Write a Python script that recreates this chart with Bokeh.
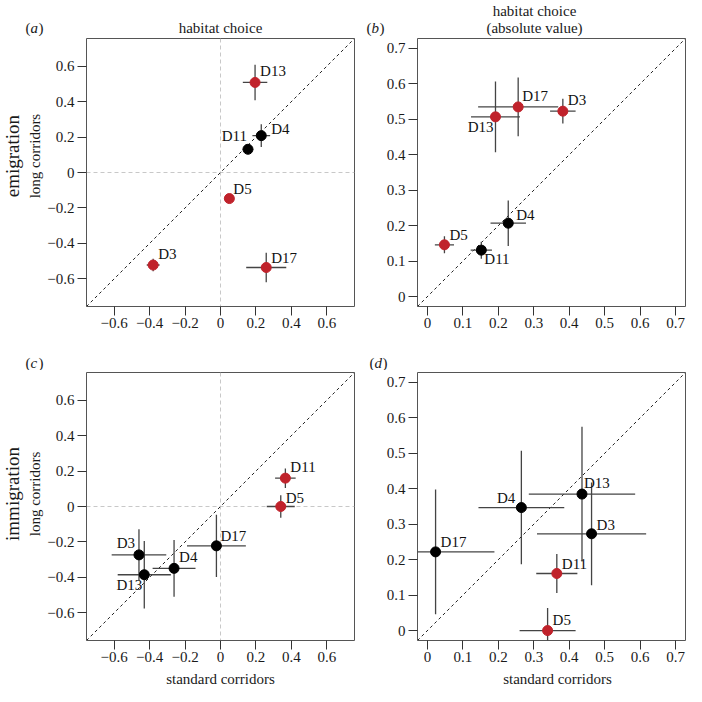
import math
from bokeh.plotting import figure
from bokeh.models import ColumnDataSource, Range1d, FixedTicker, Slope, Span
from bokeh.layouts import column, row
from bokeh.core.properties import value
from bokeh.embed import file_html
from bokeh.resources import INLINE

# ---------------- data ----------------
labels = ["D3", "D4", "D5", "D11", "D13", "D17"]

# (a) emigration, habitat choice (signed)
em_std = [-0.380, 0.230, 0.050, 0.155, 0.195, 0.258]
em_long = [-0.522, 0.208, -0.147, 0.131, 0.508, -0.536]
# (b) emigration, habitat choice (absolute value)
em_abs_std = [0.382, 0.228, 0.048, 0.152, 0.192, 0.256]
em_abs_long = [0.523, 0.207, 0.146, 0.131, 0.507, 0.535]
em_std_err = [0.036, 0.050, 0.027, 0.030, 0.069, 0.113]
em_long_err = [0.035, 0.064, 0.024, 0.024, 0.100, 0.083]
em_signif = [True, False, True, False, True, True]

# (c) immigration, habitat choice (signed)
im_std = [-0.460, -0.262, 0.340, 0.366, -0.430, -0.023]
im_long = [-0.273, -0.349, 0.000, 0.160, -0.385, -0.222]
# (d) immigration, habitat choice (absolute value)
im_abs_std = [0.463, 0.265, 0.339, 0.365, 0.436, 0.023]
im_abs_long = [0.273, 0.347, 0.000, 0.161, 0.385, 0.222]
im_std_err = [0.154, 0.121, 0.079, 0.058, 0.150, 0.166]
im_long_err = [0.145, 0.160, 0.064, 0.055, 0.190, 0.176]
im_signif = [False, False, True, True, False, False]

sym_ticks = [-0.6, -0.4, -0.2, 0, 0.2, 0.4, 0.6]
sym_tick_labels = ["\u22120.6", "\u22120.4", "\u22120.2", "0", "0.2", "0.4", "0.6"]
abs_ticks = [0, 0.1, 0.2, 0.3, 0.4, 0.5, 0.6, 0.7]
abs_tick_labels = ["0", "0.1", "0.2", "0.3", "0.4", "0.5", "0.6", "0.7"]

# ---------------- style ----------------
FONT = "Liberation Serif"
RED = "#C0222B"
BLACK = "#000000"
ERR = "#444444"
TXT = "#1a1a1a"
SYM_RANGE = (-0.756, 0.756)
ABS_RANGE = (-0.028, 0.728)

# label offsets (px) and alignment per point, per panel
off_a = [(5, -11, "left"), (10, -7, "left"), (4, -10, "left"), (-1, -13, "right"), (5, -11, "left"), (5, -10, "left")]
off_b = [(5, -11, "left"), (8, -8, "left"), (5, -10, "left"), (3, 9, "left"), (-2, 10, "right"), (4, -11, "left")]
off_c = [(-4, -12, "right"), (5, -11, "left"), (5, -9, "left"), (5, -11, "left"), (-2, 10, "right"), (4, -10, "left")]
off_d = [(5, -9, "left"), (-6, -10, "right"), (5, -11, "left"), (5, -10, "left"), (2, -11, "left"), (5, -10, "left")]


def make_panel(xs, ys, xerr, yerr, signif, offsets, symmetric, width, height,
               bl, br, bt, bb):
    if symmetric:
        rng = SYM_RANGE
        ticks, tlabels = sym_ticks, sym_tick_labels
    else:
        rng = ABS_RANGE
        ticks, tlabels = abs_ticks, abs_tick_labels
    p = figure(width=width, height=height,
               x_range=Range1d(*rng), y_range=Range1d(*rng),
               output_backend="svg", toolbar_location=None,
               min_border_left=bl, min_border_right=br,
               min_border_top=bt, min_border_bottom=bb)
    p.grid.visible = False
    p.outline_line_color = "#555555"
    p.outline_line_width = 1
    overrides = {t: l for t, l in zip(ticks, tlabels)}
    for ax in (p.xaxis[0], p.yaxis[0]):
        ax.ticker = FixedTicker(ticks=ticks)
        ax.major_label_overrides = overrides
        ax.axis_line_color = None
        ax.major_tick_in = 0
        ax.major_tick_out = 9
        ax.major_tick_line_color = "#333333"
        ax.minor_tick_line_color = None
        ax.major_label_text_font = FONT
        ax.major_label_text_font_size = "15px"
        ax.major_label_text_color = TXT
    p.xaxis[0].major_label_standoff = 2
    p.yaxis[0].major_label_standoff = 3

    if symmetric:
        p.add_layout(Span(location=0, dimension="width", line_color="#c8c8c8",
                          line_dash="4 3", line_width=1, level="underlay"))
        p.add_layout(Span(location=0, dimension="height", line_color="#c8c8c8",
                          line_dash="4 3", line_width=1, level="underlay"))
    p.add_layout(Slope(gradient=1, y_intercept=0, line_color="#222222",
                       line_dash="3 3", line_width=1, level="underlay"))

    src = ColumnDataSource(dict(
        x=xs, y=ys,
        x0=[x - e for x, e in zip(xs, xerr)], x1=[x + e for x, e in zip(xs, xerr)],
        y0=[y - e for y, e in zip(ys, yerr)], y1=[y + e for y, e in zip(ys, yerr)],
        color=[RED if s else BLACK for s in signif],
    ))
    p.segment(x0="x0", y0="y", x1="x1", y1="y", source=src, line_color=ERR, line_width=1.3)
    p.segment(x0="x", y0="y0", x1="x", y1="y1", source=src, line_color=ERR, line_width=1.3)
    p.scatter(x="x", y="y", source=src, size=10, fill_color="color", line_color="color")

    for align in ("left", "right"):
        idx = [i for i, o in enumerate(offsets) if o[2] == align]
        if not idx:
            continue
        s = ColumnDataSource(dict(
            x=[xs[i] for i in idx], y=[ys[i] for i in idx],
            t=[labels[i] for i in idx],
            dx=[offsets[i][0] for i in idx], dy=[offsets[i][1] for i in idx]))
        p.text(x="x", y="y", text="t", x_offset="dx", y_offset="dy", source=s,
               text_align=align, text_baseline="middle",
               text_font=value(FONT), text_font_size="15px", text_color="#111111")
    return p


def text_strip(width, height):
    """A plain figure whose frame fills its canvas, in pixel units (y from top)."""
    p = figure(width=width, height=height, x_range=Range1d(0, width),
               y_range=Range1d(height, 0), output_backend="svg",
               toolbar_location=None, x_axis_location=None, y_axis_location=None,
               min_border=0)
    p.grid.visible = False
    p.outline_line_color = None
    return p


def put(p, text, x, y, size="15px", align="center", angle=0.0, style="normal"):
    p.text(x=[x], y=[y], text=[text], text_align=align, text_baseline="middle",
           angle=angle, text_font=value(FONT), text_font_size=size,
           text_font_style=style, text_color=TXT)


def put_tag(p, letter, x, y):
    put(p, "(", x, y, align="left")
    put(p, letter, x + 5, y, align="left", style="italic")
    put(p, ")", x + 13, y, align="left")


# header strip (titles of the top row)
header = text_strip(686, 36)
put_tag(header, "a", 25, 27)
put(header, "habitat choice", 220, 27)
put_tag(header, "b", 366, 27)
put(header, "habitat choice", 534, 10)
put(header, "(absolute value)", 534, 27)

# left strips (row titles)
left1 = text_strip(44, 310)
put(left1, "emigration", 12, 136, size="19px", angle=math.pi / 2)
put(left1, "long corridors", 34, 136, angle=math.pi / 2)
left2 = text_strip(44, 300)
put(left2, "immigration", 12, 136, size="19px", angle=math.pi / 2)
put(left2, "long corridors", 34, 136, angle=math.pi / 2)

# middle strip (panel tags of the bottom row)
middle = text_strip(686, 24)
put_tag(middle, "c", 25, 16)
put_tag(middle, "d", 369, 16)

# footer strip (x-axis titles)
footer = text_strip(686, 16)
put(footer, "standard corridors", 220, 8)
put(footer, "standard corridors", 557, 8)

pa = make_panel(em_std, em_long, em_std_err, em_long_err, em_signif, off_a, True,
                312, 310, 42, 2, 2, 40)
pb = make_panel(em_abs_std, em_abs_long, em_std_err, em_long_err, em_signif, off_b, False,
                330, 310, 61, 1, 2, 40)
pc = make_panel(im_std, im_long, im_std_err, im_long_err, im_signif, off_c, True,
                312, 300, 42, 2, 2, 30)
pd = make_panel(im_abs_std, im_abs_long, im_std_err, im_long_err, im_signif, off_d, False,
                330, 300, 61, 1, 2, 30)

layout = column(header, row(left1, pa, pb), middle, row(left2, pc, pd), footer)
open("out.html", "w").write(file_html(layout, INLINE))
